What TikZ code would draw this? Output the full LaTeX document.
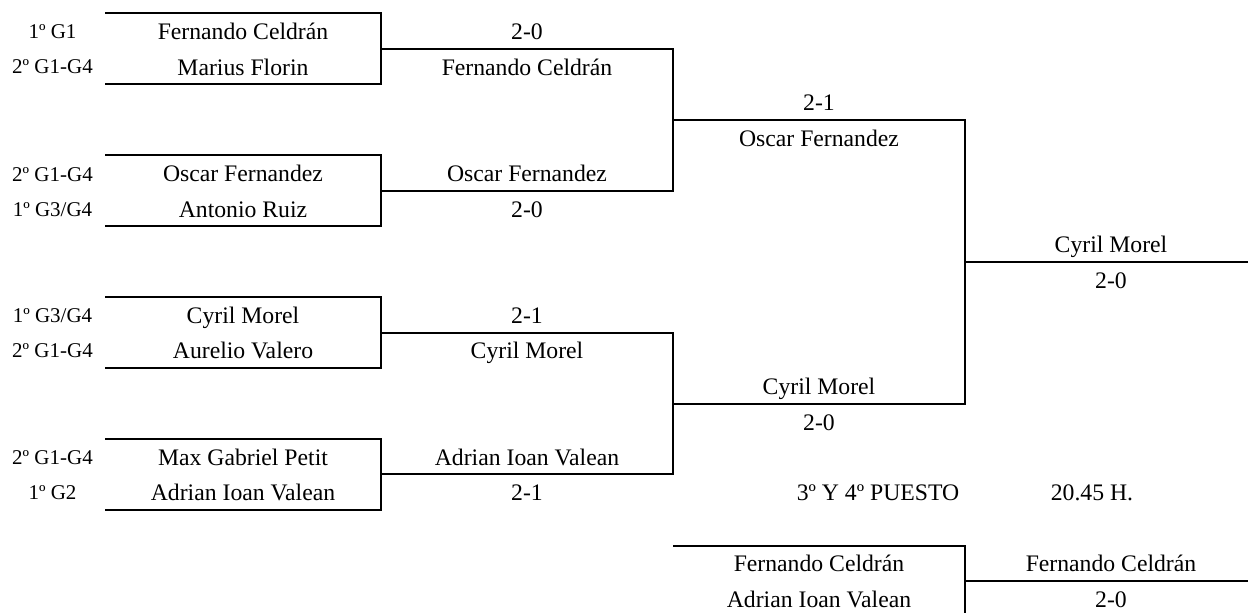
\documentclass[tikz,border=0pt]{standalone}
\usepackage{fontspec}
\setmainfont{Liberation Serif}
\begin{document}
\begin{tikzpicture}[x=1pt,y=-1pt,
  rule/.style={draw=black,line width=2pt,line cap=butt,line join=miter},
  player/.style={font=\fontsize{23.7}{26}\selectfont,inner sep=0pt,anchor=base},
  seedlabel/.style={font=\fontsize{21}{24}\selectfont,inner sep=0pt,anchor=base}]
\useasboundingbox (0,0) rectangle (1248,613);
% coordinates
\coordinate (b1a) at (105,13); \coordinate (b1c) at (381,13); \coordinate (b1d) at (381,84); \coordinate (b1b) at (105,84);
\coordinate (b2a) at (105,155); \coordinate (b2c) at (381,155); \coordinate (b2d) at (381,226); \coordinate (b2b) at (105,226);
\coordinate (b3a) at (105,297); \coordinate (b3c) at (381,297); \coordinate (b3d) at (381,368); \coordinate (b3b) at (105,368);
\coordinate (b4a) at (105,439); \coordinate (b4c) at (381,439); \coordinate (b4d) at (381,510); \coordinate (b4b) at (105,510);
\coordinate (m1) at (381,49); \coordinate (m2) at (381,191); \coordinate (m3) at (381,333); \coordinate (m4) at (381,474);
\coordinate (s1t) at (673,49); \coordinate (s1b) at (673,191); \coordinate (s1m) at (673,120);
\coordinate (s2t) at (673,333); \coordinate (s2b) at (673,474); \coordinate (s2m) at (673,404);
\coordinate (f1) at (965,120); \coordinate (f2) at (965,404); \coordinate (fm) at (965,262); \coordinate (fe) at (1248,262);
\coordinate (p1) at (673,546); \coordinate (p2) at (965,546); \coordinate (p3) at (965,613); \coordinate (pm) at (965,581); \coordinate (pe) at (1248,581);
% boxes
\draw[rule] (b1a) -- (b1c) -- (b1d) -- (b1b);
\draw[rule] (b2a) -- (b2c) -- (b2d) -- (b2b);
\draw[rule] (b3a) -- (b3c) -- (b3d) -- (b3b);
\draw[rule] (b4a) -- (b4c) -- (b4d) -- (b4b);
\draw[rule] (m1) -- (s1t) -- (s1b) -- (m2);
\draw[rule] (m3) -- (s2t) -- (s2b) -- (m4);
\draw[rule] (s1m) -- (f1) -- (f2) -- (s2m);
\draw[rule] (fm) -- (fe);
\draw[rule] (p1) -- (p2) -- (p3);
\draw[rule] (pm) -- (pe);
% seeds
\node[seedlabel] (s1) at (52.5,38) {1º G1};
\node[seedlabel] (s2) at (52.5,73) {2º G1-G4};
\node[seedlabel] (s3) at (52.5,181) {2º G1-G4};
\node[seedlabel] (s4) at (52.5,216) {1º G3/G4};
\node[seedlabel] (s5) at (52.5,322) {1º G3/G4};
\node[seedlabel] (s6) at (52.5,357) {2º G1-G4};
\node[seedlabel] (s7) at (52.5,464) {2º G1-G4};
\node[seedlabel] (s8) at (52.5,499) {1º G2};
% first round
\node[player] (n1) at (243,39) {Fernando Celdrán};
\node[player] (n2) at (243,75) {Marius Florin};
\node[player] (n3) at (243,181) {Oscar Fernandez};
\node[player] (n4) at (243,217) {Antonio Ruiz};
\node[player] (n5) at (243,323) {Cyril Morel};
\node[player] (n6) at (243,358) {Aurelio Valero};
\node[player] (n7) at (243,465) {Max Gabriel Petit};
\node[player] (n8) at (243,500) {Adrian Ioan Valean};
% second round
\node[player] (q1) at (527,39) {2-0};
\node[player] (q2) at (527,75) {Fernando Celdrán};
\node[player] (q3) at (527,181) {Oscar Fernandez};
\node[player] (q4) at (527,217) {2-0};
\node[player] (q5) at (527,323) {2-1};
\node[player] (q6) at (527,358) {Cyril Morel};
\node[player] (q7) at (527,465) {Adrian Ioan Valean};
\node[player] (q8) at (527,500) {2-1};
% third round
\node[player] (t1) at (819,110) {2-1};
\node[player] (t2) at (819,146) {Oscar Fernandez};
\node[player] (t3) at (819,394) {Cyril Morel};
\node[player] (t4) at (819,430) {2-0};
% final
\node[player] (w1) at (1111,252) {Cyril Morel};
\node[player] (w2) at (1111,288) {2-0};
% third place
\node[player] (h1) at (878,500) {3º Y 4º PUESTO};
\node[player] (h2) at (1092,500) {20.45 H.};
\node[player] (c1) at (819,571) {Fernando Celdrán};
\node[player] (c2) at (819,607) {Adrian Ioan Valean};
\node[player] (c3) at (1111,571) {Fernando Celdrán};
\node[player] (c4) at (1111,607) {2-0};
\end{tikzpicture}
\end{document}
